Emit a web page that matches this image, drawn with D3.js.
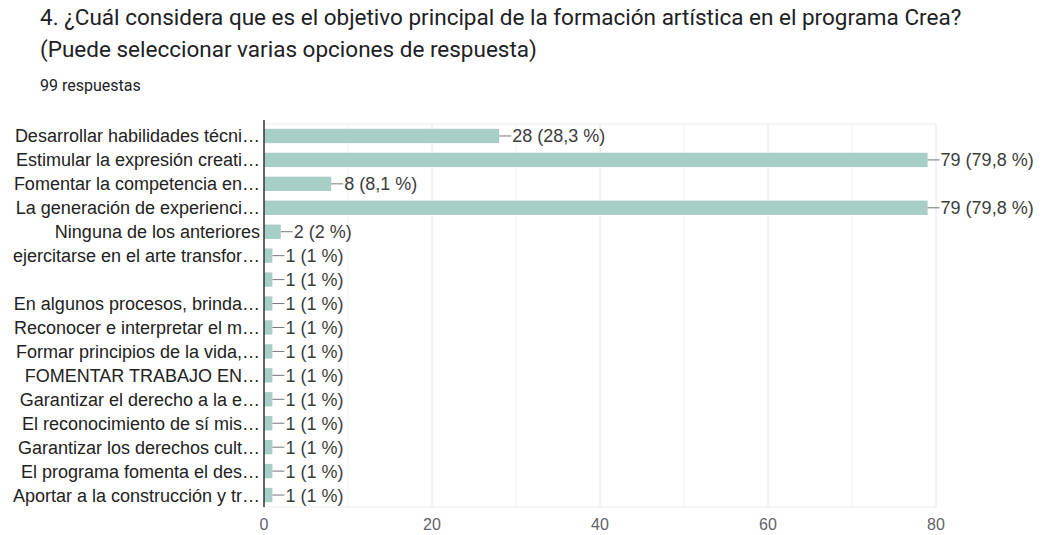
<!DOCTYPE html>
<html>
<head>
<meta charset="utf-8">
<script src="https://cdn.jsdelivr.net/npm/d3@7"></script>
<style>
  body { margin: 0; background: #fff; }
  svg { display: block; font-family: "Liberation Sans", Arial, sans-serif; }
  .title { font-family: Roboto, Arial, sans-serif; }
</style>
</head>
<body>
<div id="chart"></div>
<script>
const titleLines = [
    "4. ¿Cuál considera que es el objetivo principal de la formación artística en el programa Crea?",
    "(Puede seleccionar varias opciones de respuesta)"
];
const subtitle = "99 respuestas";

const categories = [
    "Desarrollar habilidades técni…",
    "Estimular la expresión creati…",
    "Fomentar la competencia en…",
    "La generación de experienci…",
    "Ninguna de los anteriores",
    "ejercitarse en el arte transfor…",
    "",
    "En algunos procesos, brinda…",
    "Reconocer e interpretar el m…",
    "Formar principios de la vida,…",
    "FOMENTAR TRABAJO EN…",
    "Garantizar el derecho a la e…",
    "El reconocimiento de sí mis…",
    "Garantizar los derechos cult…",
    "El programa fomenta el des…",
    "Aportar a la construcción y tr…"
];
const counts = [28, 79, 8, 79, 2, 1, 1, 1, 1, 1, 1, 1, 1, 1, 1, 1];
const percents = ["28,3", "79,8", "8,1", "79,8", "2", "1", "1", "1", "1", "1", "1", "1", "1", "1", "1", "1"];
const xTicks = [0, 20, 40, 60, 80];
const xMinorTicks = [10, 30, 50, 70];

const width = 1042;
const height = 535;
const margin = { top: 124, left: 264, right: 106, bottom: 28 };

const svg = d3.select("#chart")
    .append("svg")
    .attr("width", width)
    .attr("height", height);

// title
svg.append("g")
    .selectAll("text")
    .data(titleLines)
    .join("text")
    .attr("class", "title")
    .attr("x", 40)
    .attr("y", 25)
    .attr("dy", (d, i) => i * 32)
    .style("font-size", "22.5px")
    .style("fill", "#202124")
    .text(d => d);

svg.append("text")
    .attr("class", "title")
    .attr("x", 40)
    .attr("y", 91)
    .style("font-size", "16px")
    .style("fill", "#202124")
    .text(subtitle);

const x = d3.scaleLinear()
    .domain([0, 80])
    .range([margin.left, width - margin.right]);

const y = d3.scaleBand()
    .domain(d3.range(categories.length))
    .range([margin.top, height - margin.bottom])
    .paddingInner(0.4)
    .paddingOuter(0.2);

const plotBottom = height - margin.bottom;

// grid
svg.append("g")
    .selectAll("line")
    .data(xMinorTicks)
    .join("line")
    .attr("x1", d => x(d)).attr("x2", d => x(d))
    .attr("y1", margin.top).attr("y2", plotBottom)
    .style("stroke", "#f3f3f3");

svg.append("g")
    .selectAll("line")
    .data(xTicks.slice(1))
    .join("line")
    .attr("x1", d => x(d)).attr("x2", d => x(d))
    .attr("y1", margin.top).attr("y2", plotBottom)
    .style("stroke", "#e6e6e6");

svg.append("line")
    .attr("x1", x(0)).attr("x2", x(80))
    .attr("y1", margin.top).attr("y2", margin.top)
    .style("stroke", "#ececec");

svg.append("line")
    .attr("x1", x(0)).attr("x2", x(80))
    .attr("y1", plotBottom).attr("y2", plotBottom)
    .style("stroke", "#ececec");

// x axis labels
svg.append("g")
    .selectAll("text")
    .data(xTicks)
    .join("text")
    .attr("x", d => x(d))
    .attr("y", 524)
    .attr("dy", "0.35em")
    .attr("text-anchor", "middle")
    .style("font-size", "16px")
    .style("fill", "#5f6368")
    .text(d => d);

// bars
svg.append("g")
    .selectAll("rect")
    .data(counts)
    .join("rect")
    .attr("x", x(0))
    .attr("y", (d, i) => y(i))
    .attr("width", d => x(d) - x(0))
    .attr("height", y.bandwidth())
    .style("fill", "#a8cec8");

// leader lines + value labels
svg.append("g")
    .selectAll("line")
    .data(counts)
    .join("line")
    .attr("x1", d => x(d))
    .attr("x2", d => x(d) + 12)
    .attr("y1", (d, i) => y(i) + y.bandwidth() / 2)
    .attr("y2", (d, i) => y(i) + y.bandwidth() / 2)
    .style("stroke", "#777")
    .style("stroke-width", 1);

svg.append("g")
    .selectAll("text")
    .data(counts)
    .join("text")
    .attr("x", d => x(d) + 13)
    .attr("y", (d, i) => y(i) + y.bandwidth() / 2)
    .attr("dy", "0.36em")
    .style("font-size", "18px")
    .style("fill", "#3c3c3c")
    .text((d, i) => d + " (" + percents[i] + " %)");

// category labels
svg.append("g")
    .selectAll("text")
    .data(categories)
    .join("text")
    .attr("x", margin.left - 4)
    .attr("y", (d, i) => y(i) + y.bandwidth() / 2)
    .attr("dy", "0.36em")
    .attr("text-anchor", "end")
    .style("font-size", "18px")
    .style("fill", "#222")
    .text(d => d);

// baseline
svg.append("line")
    .attr("x1", x(0)).attr("x2", x(0))
    .attr("y1", margin.top - 4).attr("y2", plotBottom)
    .style("stroke", "#333")
    .style("stroke-width", 1.5);
</script>
</body>
</html>
